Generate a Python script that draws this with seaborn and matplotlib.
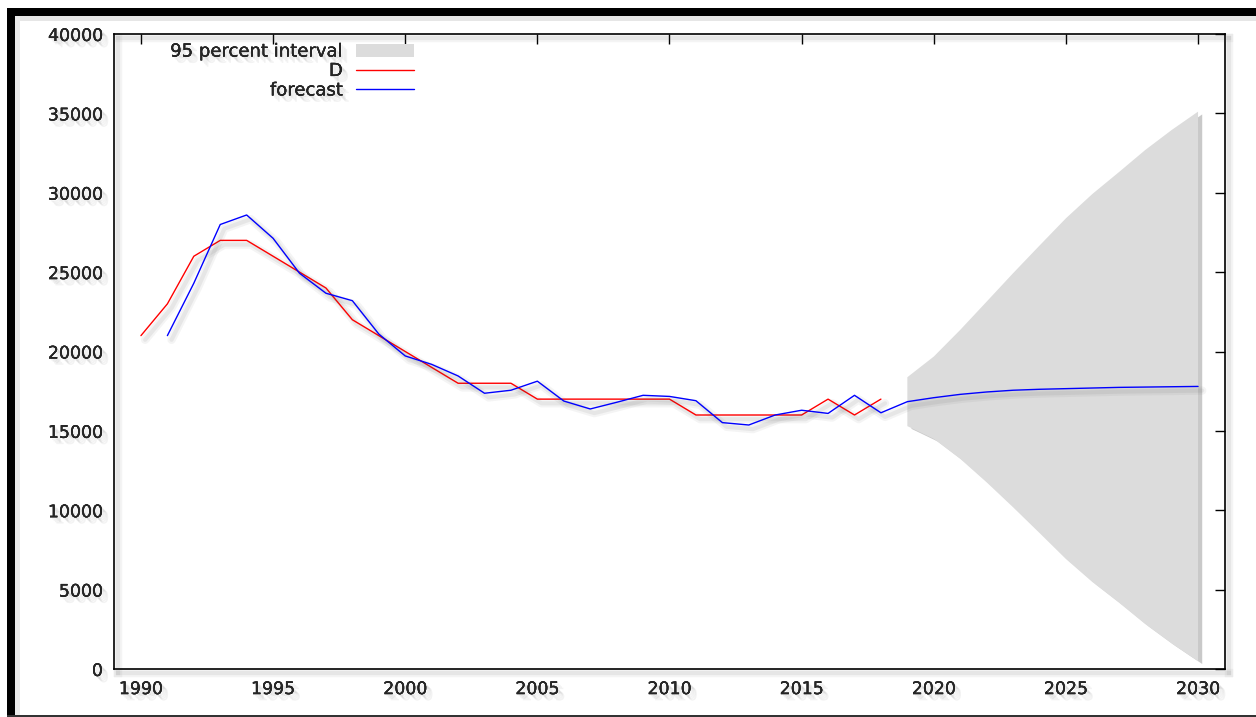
import numpy as np
import pandas as pd
import seaborn as sns
import matplotlib.pyplot as plt
import matplotlib.patheffects as pe
from matplotlib.patches import Patch, Rectangle
from matplotlib.lines import Line2D


# observed series D, 1990-2018
years_d = list(range(1990, 2019))
d_values = [21000, 23000, 26000, 27000, 27000, 26000, 25000, 24000, 22000, 21000,
            20000, 19000, 18000, 18000, 18000, 17000, 17000, 17000, 17000, 17000,
            17000, 16000, 16000, 16000, 16000, 16000, 17000, 16000, 17000]

# fitted values + forecast, 1991-2030
years_fc = list(range(1991, 2031))
fc_values = [21000, 24300, 28000, 28600, 27130, 24930, 23670, 23200, 21100, 19720,
             19190, 18460, 17370, 17560, 18130, 16880, 16380, 16800, 17240, 17170,
             16900, 15520, 15370, 16000, 16300, 16100, 17240, 16140, 16840, 17090,
             17300, 17450, 17560, 17620, 17660, 17700, 17740, 17760, 17780, 17800]

# 95 percent interval, 2019-2030
years_ci = list(range(2019, 2031))
ci_upper = [18380, 19680, 21360, 23140, 24930, 26670, 28390, 29920, 31290, 32690, 33950, 35110]
ci_lower = [15300, 14500, 13240, 11760, 10190, 8570, 6930, 5480, 4190, 2830, 1610, 490]

x_ticks = [1990, 1995, 2000, 2005, 2010, 2015, 2020, 2025, 2030]
y_ticks = [0, 5000, 10000, 15000, 20000, 25000, 30000, 35000, 40000]

df_d = pd.DataFrame({"year": years_d, "value": d_values})
df_fc = pd.DataFrame({"year": years_fc, "value": fc_values})

sns.set_style("white")
plt.rcParams["font.family"] = ["DejaVu Sans"]

fig = plt.figure(figsize=(12.56, 7.17), dpi=100)
ax = fig.add_axes([114 / 1256, 1 - 669 / 717, (1225 - 114) / 1256, (669 - 34) / 717])


def soft_text_shadow():
    # stack of faint offset copies to fake a blurred drop shadow
    fx = [pe.withSimplePatchShadow(offset=(o, -o), shadow_rgbFace="0.2", alpha=0.06)
          for o in (1.5, 2.5, 3.5, 4.5)]
    return fx


def soft_line_shadow():
    return [pe.SimpleLineShadow(offset=(3, -3), shadow_color="0.3", alpha=0.06, linewidth=6),
            pe.SimpleLineShadow(offset=(3, -3), shadow_color="0.3", alpha=0.08, linewidth=3),
            pe.Normal()]


band = ax.fill_between(years_ci, ci_lower, ci_upper, color="#dcdcdc", lw=0, zorder=1)
band.set_path_effects([pe.withSimplePatchShadow(offset=(3, -2), shadow_rgbFace="0.4", alpha=0.35)])

sns.lineplot(data=df_d, x="year", y="value", color="#ff0000", lw=1.0, ax=ax, zorder=3)
sns.lineplot(data=df_fc, x="year", y="value", color="#0000ff", lw=1.0, ax=ax, zorder=3)
for ln in ax.lines:
    ln.set_path_effects(soft_line_shadow())

ax.set_xlim(1988.98, 2031.02)
ax.set_ylim(0, 40000)
ax.set_xticks(x_ticks)
ax.set_yticks(y_ticks)
ax.set_xlabel("")
ax.set_ylabel("")
ax.tick_params(direction="in", length=7, width=1, color="black", labelsize=12.5,
               top=True, right=True, labeltop=False, labelright=False, pad=8)
for lab in ax.get_xticklabels() + ax.get_yticklabels():
    lab.set_path_effects(soft_text_shadow())
for sp in ax.spines.values():
    sp.set_color("black")
    sp.set_linewidth(1.2)
    sp.set_path_effects(soft_line_shadow())

handles = [Patch(facecolor="#dcdcdc", edgecolor="none", label="95 percent interval"),
           Line2D([], [], color="#ff0000", lw=1.0, label="D"),
           Line2D([], [], color="#0000ff", lw=1.0, label="forecast")]
leg = ax.legend(handles=handles, loc="upper right", bbox_to_anchor=(0.275, 0.995),
                frameon=False, markerfirst=False, fontsize=13, handlelength=3.2,
                handletextpad=0.75, labelspacing=0.08, borderpad=0.3, borderaxespad=0.0)
for t in leg.get_texts():
    t.set_path_effects(soft_text_shadow())

# black picture frame around the chart
fig.patches.append(Rectangle((7 / 1256, 1 - 16 / 717), 1, 8 / 717, transform=fig.transFigure,
                             facecolor="black", edgecolor="none", zorder=5))
fig.patches.append(Rectangle((7 / 1256, 0), 8 / 1256, 1 - 8 / 717, transform=fig.transFigure,
                             facecolor="black", edgecolor="none", zorder=5))
fig.patches.append(Rectangle((15 / 1256, 1 - 21 / 717), 1, 5 / 717, transform=fig.transFigure,
                             facecolor="0.9", edgecolor="none", zorder=4))
fig.patches.append(Rectangle((15 / 1256, 0), 5 / 1256, 1 - 16 / 717, transform=fig.transFigure,
                             facecolor="0.92", edgecolor="none", zorder=4))
fig.patches.append(Rectangle((7 / 1256, 0), 1, 2 / 717, transform=fig.transFigure,
                             facecolor="0.2", edgecolor="none", zorder=5))

fig.savefig("out.png", dpi=100)
